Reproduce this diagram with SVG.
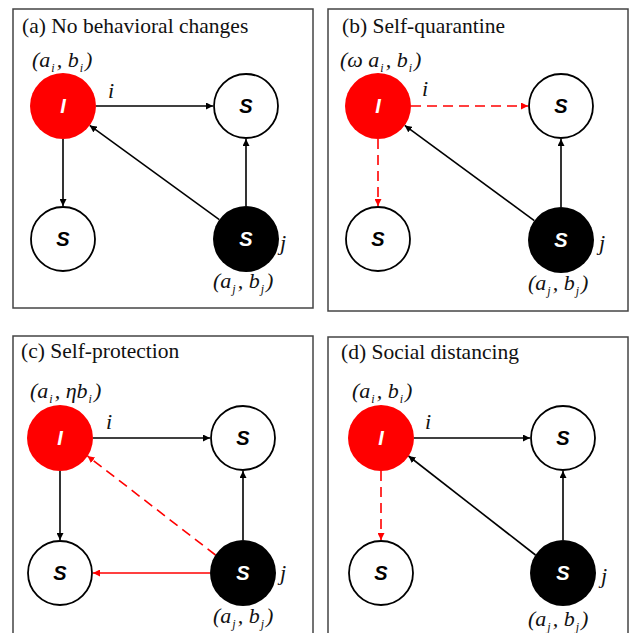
<svg xmlns="http://www.w3.org/2000/svg" width="630" height="633" viewBox="0 0 630 633">
<style>
.panel{fill:#fff;stroke:#444;stroke-width:1.5}
.title{font-family:'Liberation Serif','Times New Roman','DejaVu Serif',serif;font-size:21.5px;fill:#111}
.m{font-family:'Liberation Serif','Times New Roman','DejaVu Serif',serif;font-style:italic;font-size:22px;fill:#111}
.sub{font-size:12px}
.inf{fill:#ff0000;stroke:none}
.sus{fill:#fff;stroke:#000;stroke-width:1.8}
.blk{fill:#000;stroke:none}
.lt{font-family:'Liberation Sans',Arial,sans-serif;font-style:italic;font-weight:bold;font-size:20px;text-anchor:middle}
.w{fill:#fff}
.k{fill:#000}
.e{stroke:#000;stroke-width:1.6;fill:none;marker-end:url(#ak)}
.r{stroke:#ff0000;stroke-width:1.6;fill:none;marker-end:url(#ar)}
.d{stroke-dasharray:10 6}
</style>
<defs>
<marker id="ak" viewBox="0 0 10 10" refX="10" refY="5" markerWidth="7" markerHeight="7" markerUnits="userSpaceOnUse" orient="auto"><path d="M0,0 L10,5 L0,10 z" fill="#000"/></marker>
<marker id="ar" viewBox="0 0 10 10" refX="10" refY="5" markerWidth="7" markerHeight="7" markerUnits="userSpaceOnUse" orient="auto"><path d="M0,0 L10,5 L0,10 z" fill="#ff0000"/></marker>
</defs>
<rect width="630" height="633" fill="#fff"/>
<g id="frames">
<rect class="panel" x="13" y="9" width="300" height="299"/>
<rect class="panel" x="328" y="9" width="300" height="302"/>
<rect class="panel" x="13" y="336" width="300" height="310"/>
<rect class="panel" x="328" y="337" width="300" height="310"/>
</g>
<g id="labels">
<text class="title" x="22" y="33">(a) No behavioral changes</text>
<text class="title" x="342" y="33">(b) Self-quarantine</text>
<text class="title" x="21" y="358">(c) Self-protection</text>
<text class="title" x="341" y="359">(d) Social distancing</text>

<text class="m" x="32" y="67">(a<tspan class="sub" dx="1" dy="5">i</tspan><tspan dx="2" dy="-5">, b</tspan><tspan class="sub" dx="1" dy="5">i</tspan><tspan dx="2" dy="-5">)</tspan></text>
<text class="m" x="108" y="98">i</text>
<text class="m" x="280" y="250">j</text>
<text class="m" x="213" y="288">(a<tspan class="sub" dx="1" dy="5">j</tspan><tspan dx="2" dy="-5">, b</tspan><tspan class="sub" dx="1" dy="5">j</tspan><tspan dx="2" dy="-5">)</tspan></text>

<text class="m" x="340" y="67">(ω a<tspan class="sub" dx="1" dy="5">i</tspan><tspan dx="2" dy="-5">, b</tspan><tspan class="sub" dx="1" dy="5">i</tspan><tspan dx="2" dy="-5">)</tspan></text>
<text class="m" x="422" y="96">i</text>
<text class="m" x="599" y="250">j</text>
<text class="m" x="528" y="290">(a<tspan class="sub" dx="1" dy="5">j</tspan><tspan dx="2" dy="-5">, b</tspan><tspan class="sub" dx="1" dy="5">j</tspan><tspan dx="2" dy="-5">)</tspan></text>

<text class="m" x="30" y="398">(a<tspan class="sub" dx="1" dy="5">i</tspan><tspan dx="2" dy="-5">, ηb</tspan><tspan class="sub" dx="1" dy="5">i</tspan><tspan dx="2" dy="-5">)</tspan></text>
<text class="m" x="106" y="429">i</text>
<text class="m" x="280" y="580">j</text>
<text class="m" x="213" y="623">(a<tspan class="sub" dx="1" dy="5">j</tspan><tspan dx="2" dy="-5">, b</tspan><tspan class="sub" dx="1" dy="5">j</tspan><tspan dx="2" dy="-5">)</tspan></text>

<text class="m" x="352" y="398">(a<tspan class="sub" dx="1" dy="5">i</tspan><tspan dx="2" dy="-5">, b</tspan><tspan class="sub" dx="1" dy="5">i</tspan><tspan dx="2" dy="-5">)</tspan></text>
<text class="m" x="425" y="429">i</text>
<text class="m" x="601" y="583">j</text>
<text class="m" x="528" y="626">(a<tspan class="sub" dx="1" dy="5">j</tspan><tspan dx="2" dy="-5">, b</tspan><tspan class="sub" dx="1" dy="5">j</tspan><tspan dx="2" dy="-5">)</tspan></text>
</g>
<g id="connectors">
<line class="e" x1="96" y1="106" x2="213" y2="106"/>
<line class="e" x1="63" y1="139" x2="63" y2="206"/>
<line class="e" x1="246" y1="206" x2="246" y2="139"/>
<line class="e" x1="219.3" y1="219.6" x2="89.7" y2="125.4"/>
<line class="r d" x1="411" y1="106" x2="528" y2="106"/>
<line class="r d" x1="378" y1="139" x2="378" y2="206"/>
<line class="e" x1="561" y1="207" x2="561" y2="139"/>
<line class="e" x1="534.3" y1="220.6" x2="404.7" y2="125.4"/>
<line class="e" x1="93" y1="438" x2="210" y2="438"/>
<line class="e" x1="60" y1="471" x2="60" y2="540"/>
<line class="e" x1="243" y1="540" x2="243" y2="471"/>
<line class="r d" x1="215.5" y1="555" x2="87.5" y2="456"/>
<line class="r" x1="210" y1="573" x2="93" y2="573"/>
<line class="e" x1="414" y1="438" x2="530" y2="438"/>
<line class="r d" x1="381" y1="471" x2="381" y2="540"/>
<line class="e" x1="563" y1="540" x2="563" y2="471"/>
<line class="e" x1="535.5" y1="555" x2="408.5" y2="456"/>
</g>
<g id="a-I"><circle class="inf" cx="63" cy="106" r="33"/><text class="lt w" x="63" y="113">I</text></g>
<g id="a-S1"><circle class="sus" cx="246" cy="106" r="32"/><text class="lt k" x="246" y="113">S</text></g>
<g id="a-S2"><circle class="sus" cx="63" cy="239" r="32"/><text class="lt k" x="63" y="246">S</text></g>
<g id="a-Sj"><circle class="blk" cx="246" cy="239" r="33"/><text class="lt w" x="246" y="246">S</text></g>

<g id="b-I"><circle class="inf" cx="378" cy="106" r="33"/><text class="lt w" x="378" y="113">I</text></g>
<g id="b-S1"><circle class="sus" cx="561" cy="106" r="32"/><text class="lt k" x="561" y="113">S</text></g>
<g id="b-S2"><circle class="sus" cx="378" cy="239" r="32"/><text class="lt k" x="378" y="246">S</text></g>
<g id="b-Sj"><circle class="blk" cx="561" cy="240" r="33"/><text class="lt w" x="561" y="247">S</text></g>

<g id="c-I"><circle class="inf" cx="60" cy="438" r="33"/><text class="lt w" x="60" y="445">I</text></g>
<g id="c-S1"><circle class="sus" cx="243" cy="438" r="32"/><text class="lt k" x="243" y="445">S</text></g>
<g id="c-S2"><circle class="sus" cx="60" cy="573" r="32"/><text class="lt k" x="60" y="580">S</text></g>
<g id="c-Sj"><circle class="blk" cx="243" cy="573" r="33"/><text class="lt w" x="243" y="580">S</text></g>

<g id="d-I"><circle class="inf" cx="381" cy="438" r="33"/><text class="lt w" x="381" y="445">I</text></g>
<g id="d-S1"><circle class="sus" cx="563" cy="438" r="32"/><text class="lt k" x="563" y="445">S</text></g>
<g id="d-S2"><circle class="sus" cx="381" cy="573" r="32"/><text class="lt k" x="381" y="580">S</text></g>
<g id="d-Sj"><circle class="blk" cx="563" cy="573" r="33"/><text class="lt w" x="563" y="580">S</text></g>
</svg>
